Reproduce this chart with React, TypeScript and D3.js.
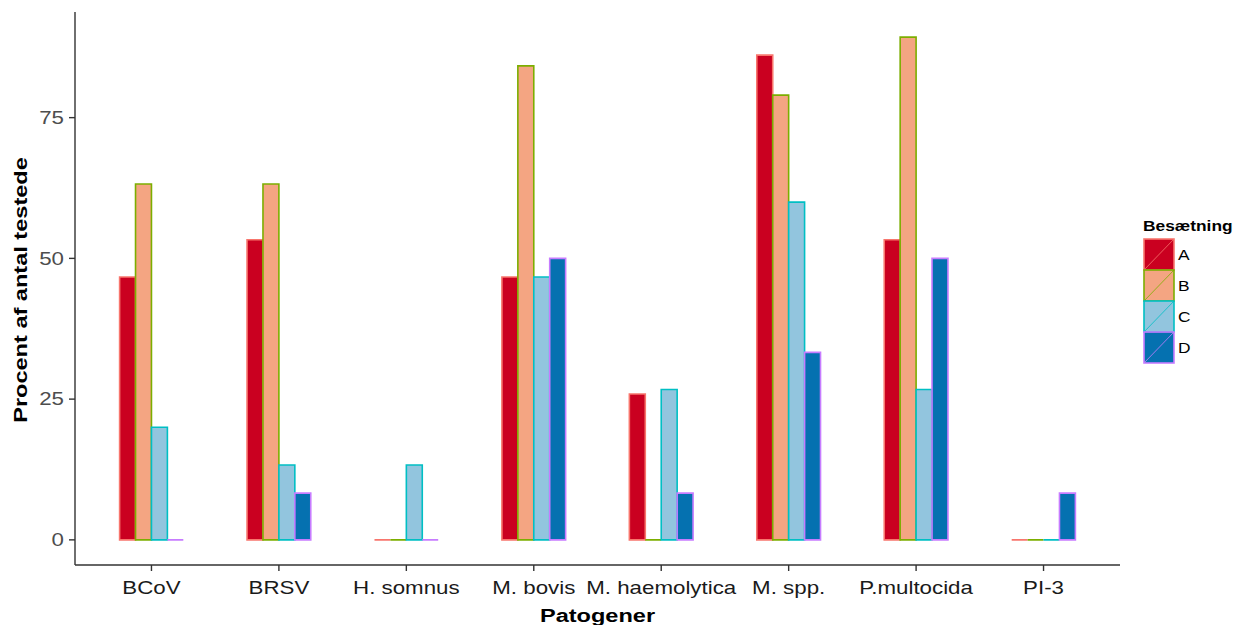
import React from "react";
import * as d3 from "d3";

const categories = ["BCoV", "BRSV", "H. somnus", "M. bovis", "M. haemolytica", "M. spp.", "P.multocida", "PI-3"];
const groups = ["A", "B", "C", "D"];
const valuesA = [46.7, 53.3, 0, 46.7, 25.9, 86.1, 53.3, 0];
const valuesB = [63.2, 63.2, 0, 84.2, 0, 79.0, 89.3, 0];
const valuesC = [20.0, 13.3, 13.3, 46.7, 26.7, 60.0, 26.7, 0];
const valuesD = [0, 8.3, 0, 50.0, 8.3, 33.3, 50.0, 8.3];
const yTicks = [0, 25, 50, 75];
const fills = ["#CA0020", "#F4A582", "#92C5DE", "#0571B0"];
const strokes = ["#F8766D", "#7CAE00", "#00BFC4", "#C77CFF"];

const W = 1237, H = 625;
const left = 75, right = 1120, top = 12, bottom = 565;
const FONT = "'Liberation Sans', Arial, sans-serif";
const SX = 1.24;

function SText(props: {
  x: number; y: number; rotate?: number; anchor?: string; size: number; bold?: boolean; fill?: string; children: React.ReactNode;
}) {
  const { x, y, rotate = 0, anchor = "start", size, bold, fill = "#000", children } = props;
  return (
    <text
      transform={`translate(${x},${y}) rotate(${rotate}) scale(${SX},1)`}
      dy="0.35em"
      textAnchor={anchor}
      fontSize={size}
      fontWeight={bold ? "bold" : "normal"}
      fill={fill}
    >
      {children}
    </text>
  );
}

export default function App() {
  const series = [valuesA, valuesB, valuesC, valuesD];
  const maxV = d3.max(series.flat()) as number;
  const pad = maxV * 0.05;
  const y = d3.scaleLinear().domain([-pad, maxV + pad]).range([bottom, top]);
  const x = d3.scaleBand<string>().domain(categories).range([left, right]).paddingInner(0.5).paddingOuter(0.35);
  const xi = d3.scaleBand<string>().domain(groups).range([0, x.bandwidth()]).padding(0);

  const bars: React.ReactNode[] = [];
  categories.forEach((c, ci) => {
    groups.forEach((g, gi) => {
      const v = series[gi][ci];
      const x0 = (x(c) as number) + (xi(g) as number);
      const w = xi.bandwidth();
      const y0 = y(0), y1 = y(v);
      const d = `M${x0},${y0}H${x0 + w}V${y1}H${x0}Z`;
      bars.push(
        <path key={c + g} d={d} fill={fills[gi]} stroke={strokes[gi]} strokeWidth={1.6} />
      );
    });
  });

  const axisColor = "#333333";
  const legX = 1144, legY = 239, keyW = 30, keyH = 31;

  return (
    <svg width={W} height={H} style={{ position: "absolute", left: 0, top: 0, background: "#fff" }} fontFamily={FONT}>
      <rect width={W} height={H} fill="#fff" />
      {bars}
      <line x1={left} x2={left} y1={top} y2={bottom} stroke={axisColor} strokeWidth={1.4} />
      {yTicks.map((t) => (
        <g key={t}>
          <line x1={left - 6} x2={left} y1={y(t)} y2={y(t)} stroke={axisColor} strokeWidth={1.4} />
          <SText x={left - 11} y={y(t)} anchor="end" size={18} fill="#4d4d4d">{t}</SText>
        </g>
      ))}
      <line x1={left} x2={right} y1={bottom} y2={bottom} stroke={axisColor} strokeWidth={1.4} />
      {categories.map((c) => {
        const cx = (x(c) as number) + x.bandwidth() / 2;
        return (
          <g key={c}>
            <line x1={cx} x2={cx} y1={bottom} y2={bottom + 6} stroke={axisColor} strokeWidth={1.4} />
            <SText x={cx} y={588} anchor="middle" size={18} fill="#1a1a1a">{c}</SText>
          </g>
        );
      })}
      <SText x={(left + right) / 2} y={615} anchor="middle" size={19} bold>Patogener</SText>
      <SText x={20} y={290} rotate={-90} anchor="middle" size={19} bold>Procent af antal testede</SText>
      <SText x={1143} y={226} size={14} bold>Besætning</SText>
      {groups.map((g, gi) => {
        const ky = legY + gi * keyH;
        return (
          <g key={g}>
            <rect x={legX} y={ky} width={keyW} height={keyH} fill={fills[gi]} stroke={strokes[gi]} strokeWidth={1.6} />
            <line x1={legX} y1={ky + keyH} x2={legX + keyW} y2={ky} stroke={strokes[gi]} strokeWidth={0.8} />
            <SText x={legX + keyW + 4} y={ky + keyH / 2 + 1} size={14}>{g}</SText>
          </g>
        );
      })}
    </svg>
  );
}
